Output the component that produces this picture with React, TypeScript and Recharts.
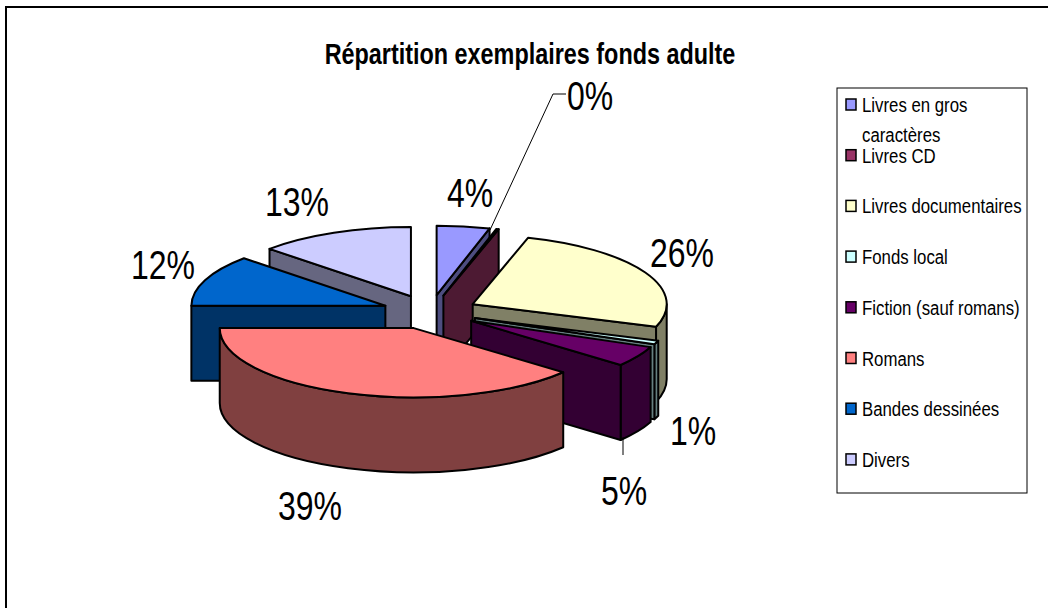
import { PieChart, Pie, Legend } from 'recharts';

const NAMES = [
  'Livres en gros caractères',
  'Livres CD',
  'Livres documentaires',
  'Fonds local',
  'Fiction (sauf romans)',
  'Romans',
  'Bandes dessinées',
  'Divers',
];
const VALUES = [4.4, 0.2, 25.7, 0.9, 4.8, 39, 12, 13];
const COLORS = ['#9999FF', '#993366', '#FFFFCC', '#CCFFFF', '#660066', '#FF8080', '#0066CC', '#CCCCFF'];
const WALLS = ['#4D4D80', '#4D1A33', '#808066', '#668080', '#330033', '#804040', '#003366', '#666680'];
// back to front, the library paints in data order otherwise
const PAINT_ORDER = [0, 1, 7, 6, 2, 3, 4, 5];

// where each percentage sits: [centre x, baseline y]
const LABEL_POS = [
  [470, 207],
  [590, 110],
  [682, 267],
  [693, 445],
  [624, 505],
  [310, 520],
  [163, 279],
  [297, 216],
];

const data = NAMES.map((name, i) => ({ name, value: VALUES[i], fill: COLORS[i], idx: i }));

const FONT = '"Liberation Sans", Arial, sans-serif';
const TILT = 0.357;
const DEPTH = 75;
const EXPLODE = 48;

function SliceShape(props: any) {
  const { cx, cy, outerRadius: r, startAngle, endAngle, fill } = props;
  const idx = props.idx ?? props.payload?.idx;
  const wall = WALLS[idx];
  const ry = r * TILT;
  const mid = (((startAngle + endAngle) / 2) * Math.PI) / 180;
  const ax = cx + EXPLODE * Math.cos(mid);
  const ay = cy - EXPLODE * TILT * Math.sin(mid);
  const pt = (deg: number) => {
    const a = (deg * Math.PI) / 180;
    return [ax + r * Math.cos(a), ay - ry * Math.sin(a)];
  };
  const [sx, sy] = pt(startAngle);
  const [ex, ey] = pt(endAngle);
  const large = startAngle - endAngle > 180 ? 1 : 0;
  const line = { stroke: '#000', strokeWidth: 2, strokeLinejoin: 'round' as const };

  const face = (x: number, y: number) =>
    `M${ax},${ay} L${x},${y} L${x},${y + DEPTH} L${ax},${ay + DEPTH} Z`;

  // a cut face shows only when it turns towards the viewer
  const showStart = Math.sin(((90 - startAngle) * Math.PI) / 180) < 0;
  const showEnd = Math.sin(((90 - endAngle) * Math.PI) / 180) > 0;

  // outer wall: only the front half of the ellipse
  const a0 = Math.min(startAngle, 0);
  const a1 = Math.max(endAngle, -180);
  let rim = null;
  if (a0 > a1) {
    const [x0, y0] = pt(a0);
    const [x1, y1] = pt(a1);
    rim = (
      <path
        d={`M${x0},${y0} A${r},${ry} 0 0 1 ${x1},${y1} L${x1},${y1 + DEPTH} A${r},${ry} 0 0 0 ${x0},${y0 + DEPTH} Z`}
        fill={wall}
        {...line}
      />
    );
  }

  return (
    <g>
      {rim}
      {showStart && <path d={face(sx, sy)} fill={wall} {...line} />}
      {showEnd && <path d={face(ex, ey)} fill={wall} {...line} />}
      <path d={`M${ax},${ay} L${sx},${sy} A${r},${ry} 0 ${large} 1 ${ex},${ey} Z`} fill={fill} {...line} />
    </g>
  );
}

function Squeezed({ x, y, size, anchor, weight, squeeze = 0.78, children }: any) {
  return (
    <text
      transform={`translate(${x} ${y}) scale(${squeeze} 1)`}
      fontFamily={FONT}
      fontSize={size}
      fontWeight={weight}
      textAnchor={anchor}
      fill="#000"
    >
      {children}
    </text>
  );
}

function PercentLabel(props: any) {
  const { index, percent } = props;
  const [x, y] = LABEL_POS[index];
  return (
    <g>
      {index === 1 && <polyline points="566,94 553,94 490,230" fill="none" stroke="#000" strokeWidth={1} />}
      {index === 4 && <line x1={623} y1={437} x2={623} y2={455} stroke="#000" strokeWidth={1} />}
      <Squeezed x={x} y={y} size={41} anchor="middle">
        {`${Math.round(percent * 100)}%`}
      </Squeezed>
    </g>
  );
}

function LegendBox() {
  return (
    <svg width={193} height={408} style={{ display: 'block' }}>
      <rect x={1} y={1} width={190} height={405} fill="#fff" stroke="#000" strokeWidth={1} />
      {NAMES.map((name, i) => {
        const base = 25 + i * 50.7;
        const wrapped = i === 0;
        return (
          <g key={name}>
            <rect x={10} y={base - 13} width={10} height={11} fill={COLORS[i]} stroke="#000" strokeWidth={1.5} />
            <Squeezed x={26} y={base} size={21} anchor="start" squeeze={0.8}>
              {wrapped ? 'Livres en gros' : name}
            </Squeezed>
            {wrapped && (
              <Squeezed x={26} y={base + 30} size={21} anchor="start" squeeze={0.8}>
                caractères
              </Squeezed>
            )}
          </g>
        );
      })}
    </svg>
  );
}

export default function App() {
  return (
    <div style={{ position: 'absolute', left: 0, top: 0, width: 1048, height: 608, background: '#fff', overflow: 'hidden' }}>
      <div style={{ position: 'absolute', left: 5, top: 6, width: 1043, height: 2, background: '#000' }} />
      <div style={{ position: 'absolute', left: 5, top: 6, width: 2, height: 602, background: '#000' }} />
      <PieChart width={1048} height={608} margin={{ top: 0, right: 0, bottom: 0, left: 0 }}>
        <Squeezed x={530} y={64} size={30} anchor="middle" weight="bold">
          Répartition exemplaires fonds adulte
        </Squeezed>
        {PAINT_ORDER.map((slice, n) => (
          <Pie
            key={slice}
            data={data}
            dataKey="value"
            nameKey="name"
            cx={430}
            cy={312}
            innerRadius={0}
            outerRadius={194}
            startAngle={90}
            endAngle={-270}
            isAnimationActive={false}
            legendType={n === 0 ? 'square' : 'none'}
            shape={(p: any) => ((p.idx ?? p.payload?.idx) === slice ? <SliceShape {...p} /> : <g />)}
            label={n === PAINT_ORDER.length - 1 ? (p: any) => <PercentLabel {...p} /> : false}
            labelLine={false}
          />
        ))}
        <Legend
          layout="vertical"
          align="right"
          verticalAlign="top"
          content={() => <LegendBox />}
          wrapperStyle={{ position: 'absolute', left: 836, top: 87, width: 193, height: 408 }}
        />
      </PieChart>
    </div>
  );
}
